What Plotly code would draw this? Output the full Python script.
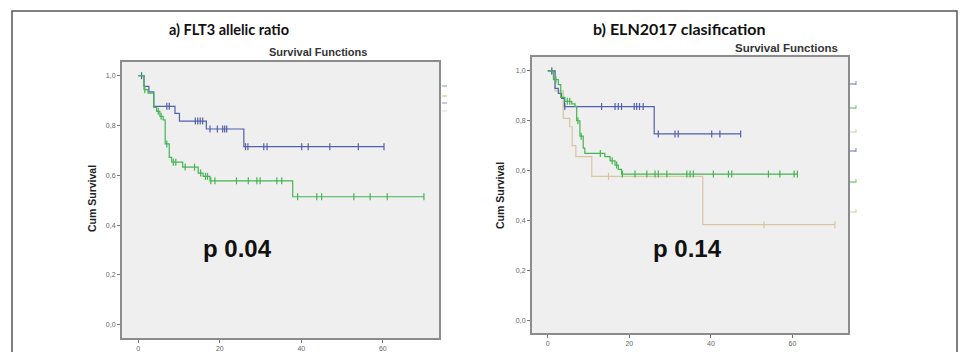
import numpy as np
import plotly.graph_objects as go

W, H = 963, 352

# ---------------- data ----------------
x_tick_vals = [0, 20, 40, 60]
x_tick_text = ["0", "20", "40", "60"]
y_tick_vals = [0.0, 0.2, 0.4, 0.6, 0.8, 1.0]
y_tick_text = ["0,0", "0,2", "0,4", "0,6", "0,8", "1,0"]

# Panel a) FLT3 allelic ratio
a_blue_t = [0, 1.4, 2.6, 3.8, 9.0, 10.1, 16.7, 25.9, 60.3]
a_blue_s = [1.0, 0.957, 0.935, 0.877, 0.849, 0.818, 0.786, 0.715, 0.715]
a_blue_cens = [0.8, 7.0, 7.6, 14.0, 14.6, 15.2, 15.8, 17.6, 19.4, 20.7, 21.2, 21.7,
               26.3, 26.9, 30.8, 31.6, 40.1, 41.7, 47.0, 54.0, 60.3]

a_green_t = [0, 1.4, 2.4, 3.8, 4.5, 5.3, 6.1, 6.6, 7.6, 8.2, 10.9, 14.7, 15.9, 17.6, 37.9, 70.1]
a_green_s = [1.0, 0.944, 0.93, 0.873, 0.857, 0.837, 0.823, 0.726, 0.672, 0.653, 0.633,
             0.609, 0.596, 0.578, 0.514, 0.514]
a_green_cens = [1.6, 4.9, 5.6, 7.0, 8.6, 9.2, 11.5, 13.8, 15.3, 16.5, 17.0, 17.8, 18.8,
                 24.1, 27.0, 29.1, 29.9, 34.0, 35.2, 39.1, 43.8, 45.0, 52.9, 56.9, 61.1, 70.1]

# Panel b) ELN2017 clasification
b_blue_t = [0, 1.8, 2.6, 3.4, 4.1, 26.1, 47.3]
b_blue_s = [1.0, 0.93, 0.91, 0.89, 0.857, 0.747, 0.747]
b_blue_cens = [1.0, 4.2, 13.2, 16.5, 17.3, 18.1, 21.2, 21.8, 22.5, 23.4, 27.1, 31.2, 32.0,
               40.2, 42.2, 47.3]

b_green_t = [0, 1.4, 2.6, 3.2, 4.2, 5.9, 6.7, 7.1, 7.9, 8.7, 9.1, 14.0, 15.3, 16.5, 17.3, 18.1, 61.2]
b_green_s = [1.0, 0.965, 0.945, 0.894, 0.878, 0.868, 0.858, 0.80, 0.738, 0.69, 0.669, 0.656,
             0.639, 0.622, 0.605, 0.586, 0.586]
b_green_cens = [2.0, 4.8, 5.4, 7.4, 8.2, 12.9, 15.8, 16.9, 18.3, 21.4, 24.3, 26.3, 27.1, 29.2,
                34.1, 34.9, 35.7, 40.6, 44.3, 45.1, 54.1, 56.9, 60.4, 61.2]

b_tan_t = [0, 1.8, 3.8, 5.4, 6.0, 6.9, 10.8, 38.0, 70.4]
b_tan_s = [1.0, 0.92, 0.81, 0.776, 0.70, 0.656, 0.577, 0.383, 0.383]
b_tan_cens = [1.0, 14.9, 53.0, 70.4]

BLUE = "#5260ad"
GREEN = "#45b553"
TAN = "#d6c79f"


def step_at(times, surv, t):
    i = int(np.searchsorted(np.array(times), t, side="right")) - 1
    return surv[max(i, 0)]


fig = go.Figure()


def add_curve(times, surv, cens, color, xa, ya):
    fig.add_trace(go.Scatter(x=times, y=surv, mode="lines", line=dict(color=color, width=1.2, shape="hv"),
                             xaxis=xa, yaxis=ya, showlegend=False, hoverinfo="skip"))
    fig.add_trace(go.Scatter(x=cens, y=[step_at(times, surv, c) for c in cens], mode="markers",
                             marker=dict(symbol="line-ns", size=5, line=dict(color=color, width=1.2)),
                             xaxis=xa, yaxis=ya, showlegend=False, hoverinfo="skip"))


add_curve(a_blue_t, a_blue_s, a_blue_cens, BLUE, "x", "y")
add_curve(a_green_t, a_green_s, a_green_cens, GREEN, "x", "y")
add_curve(b_tan_t, b_tan_s, b_tan_cens, TAN, "x2", "y2")
add_curve(b_blue_t, b_blue_s, b_blue_cens, BLUE, "x2", "y2")
add_curve(b_green_t, b_green_s, b_green_cens, GREEN, "x2", "y2")


def xdom(a, b):
    return [a / W, b / W]


def ydom(top, bottom):
    return [1 - bottom / H, 1 - top / H]


axis_common = dict(showline=True, mirror=True, linecolor="#8c8c8c", linewidth=2, showgrid=False,
                   zeroline=False, ticks="outside", ticklen=3, tickcolor="#777", tickwidth=1,
                   tickfont=dict(family="Liberation Sans", size=7, color="#666"))

fig.update_layout(
    width=W, height=H, margin=dict(l=0, r=0, t=0, b=0),
    paper_bgcolor="white", plot_bgcolor="#efefef",
    xaxis=dict(domain=xdom(122, 439), range=[-4.0, 73.8], tickvals=x_tick_vals, ticktext=x_tick_text,
               anchor="y", **axis_common),
    yaxis=dict(domain=ydom(62, 338), range=[-0.053, 1.055], tickvals=y_tick_vals, ticktext=y_tick_text,
               anchor="x", **axis_common),
    xaxis2=dict(domain=xdom(532, 848), range=[-3.85, 73.6], tickvals=x_tick_vals, ticktext=x_tick_text,
                anchor="y2", **axis_common),
    yaxis2=dict(domain=ydom(57, 333), range=[-0.052, 1.056], tickvals=y_tick_vals, ticktext=y_tick_text,
                anchor="x2", **axis_common),
)

# outer frame
fig.add_shape(type="rect", xref="paper", yref="paper", x0=12 / W, x1=957 / W, y0=-0.2, y1=1 - 11 / H,
              line=dict(color="#555", width=1.5), fillcolor="rgba(0,0,0,0)", layer="above")

# legend remnants
rem_a = [(86, "#8a93c4"), (96, "#8fd29a"), (103, "#8a93c4"), (111, "#cfd9cc")]
for yy, c in rem_a:
    fig.add_shape(type="line", xref="paper", yref="paper", x0=442 / W, x1=447 / W, y0=1 - yy / H, y1=1 - yy / H,
                  line=dict(color=c, width=1))
rem_b = [(84, "#7b86c0"), (108, "#6cc67a"), (132, "#ddd2b4"), (151, "#7b86c0"), (182, "#6cc67a"), (212, "#ddd2b4")]
for yy, c in rem_b:
    fig.add_shape(type="line", xref="paper", yref="paper", x0=850 / W, x1=856 / W, y0=1 - yy / H, y1=1 - yy / H,
                  line=dict(color=c, width=1.2))
    fig.add_shape(type="line", xref="paper", yref="paper", x0=856 / W, x1=856 / W, y0=1 - (yy - 3) / H,
                  y1=1 - (yy + 1) / H, line=dict(color=c, width=1))


def ann(text, x, y, size, family="Liberation Sans", color="#111", angle=0):
    fig.add_annotation(text=text, x=x / W, y=1 - y / H, xref="paper", yref="paper", showarrow=False,
                       xanchor="center", yanchor="middle", textangle=angle,
                       font=dict(family=family, size=size, color=color))


ann("<b>a) FLT3 allelic ratio</b>", 229, 30, 14.5, family="Lato")
ann("<b>b) ELN2017 clasification</b>", 679, 28, 16, family="Lato")
ann("<b>Survival Functions</b>", 318, 52, 11, color="#333")
ann("<b>Survival Functions</b>", 786, 48, 11.5, color="#333")
ann("<b>Cum Survival</b>", 92, 199, 10.5, color="#222", angle=-90)
ann("<b>Cum Survival</b>", 500, 196, 10.5, color="#222", angle=-90)
ann("<b>p 0.04</b>", 237, 248, 24, color="#111")
ann("<b>p 0.14</b>", 687, 248, 24, color="#111")

fig.write_html("out.html", config={"displayModeBar": False, "staticPlot": True},
               post_script="document.body.style.margin='0';document.body.style.overflow='hidden';")
